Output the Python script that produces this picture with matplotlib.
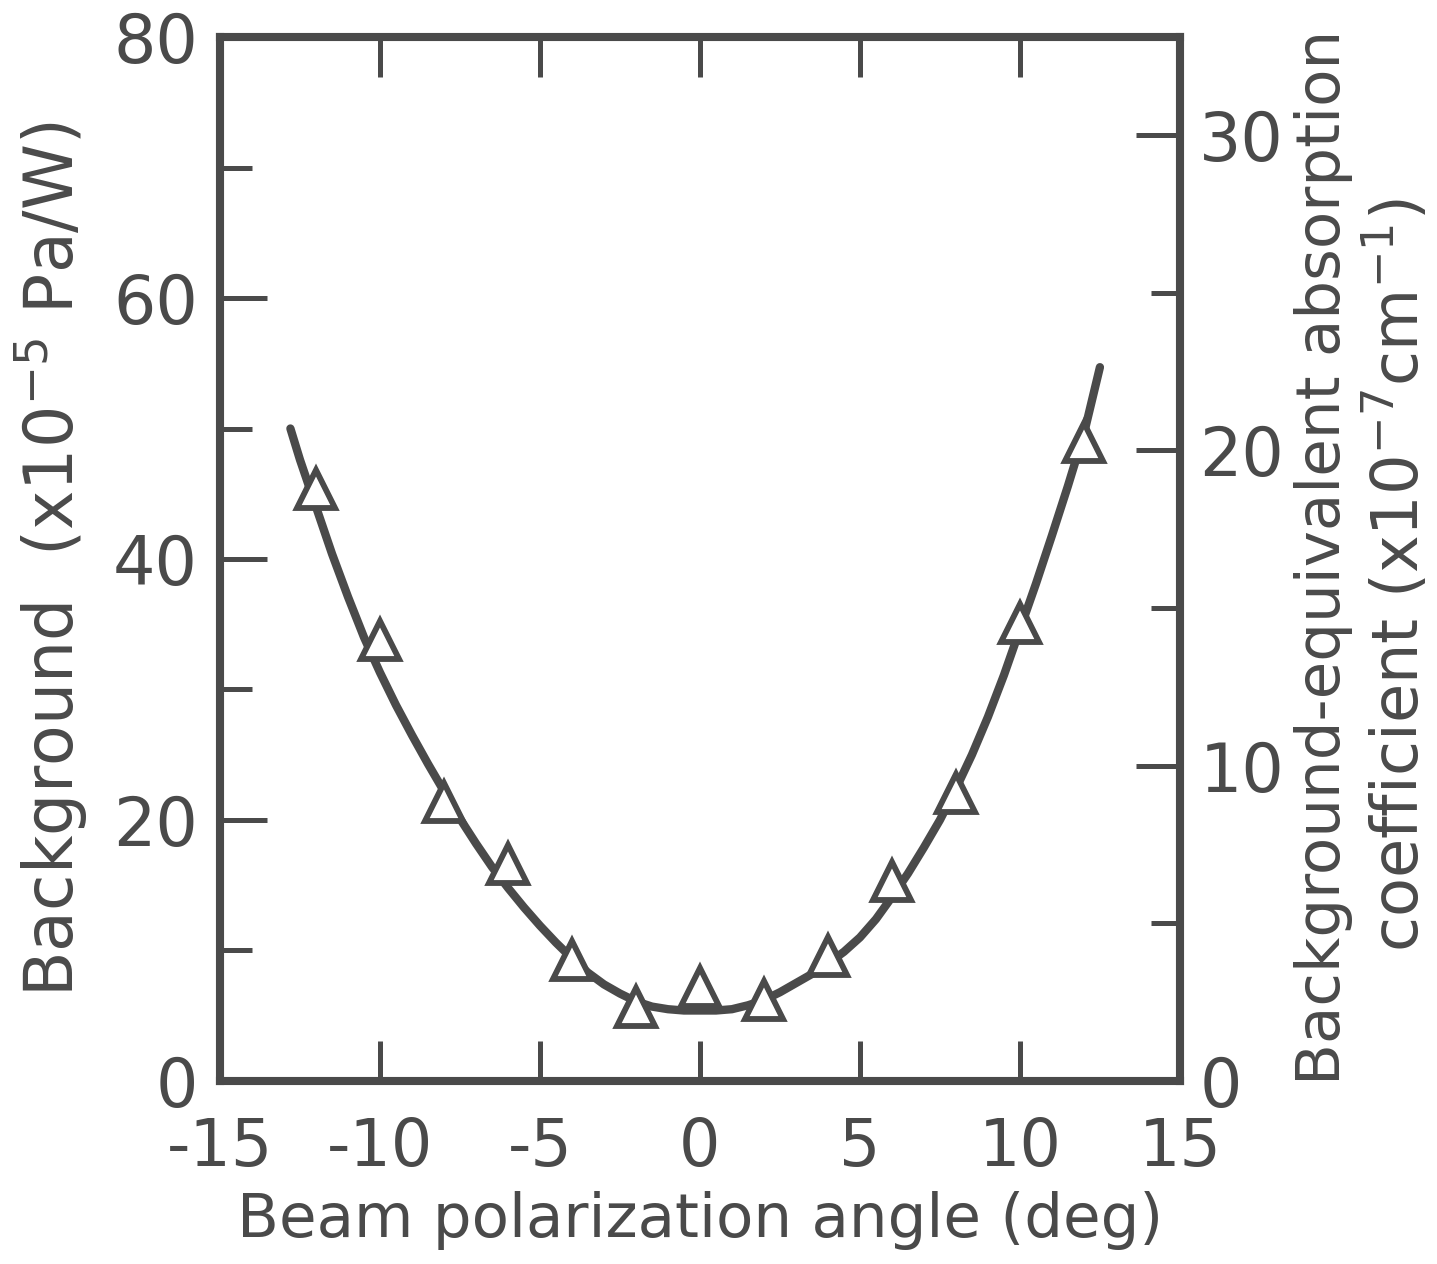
import numpy as np
import matplotlib.pyplot as plt

# measured points (triangles)
angle_pts = [-12, -10, -8, -6, -4, -2, 0, 2, 4, 6, 8, 10, 12]
bg_pts = [45.4, 33.8, 21.4, 16.6, 9.3, 5.7, 7.2, 6.2, 9.6, 15.3, 22.1, 35.1, 49.0]

# smooth curve
curve_x = [-12.8, -12.5, -12.0, -11.5, -11.0, -10.5, -10.0, -9.5, -9.0, -8.5, -8.0,
           -7.5, -7.0, -6.5, -6.0, -5.5, -5.0, -4.5, -4.0, -3.5, -3.0, -2.5, -2.0,
           -1.5, -1.0, -0.5, 0.0, 0.5, 1.0, 1.5, 2.0, 2.5, 3.0, 3.5, 4.0, 4.5, 5.0,
           5.5, 6.0, 6.5, 7.0, 7.5, 8.0, 8.5, 9.0, 9.5, 10.0, 10.5, 11.0, 11.5,
           12.0, 12.5]
curve_y = [50.0, 47.6, 44.0, 40.4, 37.1, 34.0, 31.3, 28.8, 26.5, 24.3, 22.2,
           20.1, 18.2, 16.4, 14.8, 13.3, 11.9, 10.6, 9.4, 8.3, 7.4, 6.7, 6.1,
           5.7, 5.5, 5.4, 5.4, 5.4, 5.5, 5.8, 6.2, 6.8, 7.5, 8.2, 9.0, 9.9, 11.0,
           12.4, 14.1, 15.9, 17.9, 20.0, 22.4, 25.0, 27.9, 31.1, 34.6, 38.1, 41.8,
           45.6, 49.6, 54.7]

x_ticks = [-15, -10, -5, 0, 5, 10, 15]
left_major = [0, 20, 40, 60, 80]
left_minor = [10, 30, 50, 70]
right_major = [0, 10, 20, 30]
right_minor = [5, 15, 25]
right_max = 33.1

ink = '#4a4a4a'
plt.rcParams.update({
    'font.family': 'DejaVu Sans',
    'font.size': 48,
    'mathtext.default': 'regular',
    'axes.unicode_minus': False,
    'text.color': ink,
    'axes.edgecolor': ink,
    'axes.labelcolor': ink,
    'xtick.color': ink,
    'ytick.color': ink,
})

fig = plt.figure(figsize=(14.37, 12.64), dpi=100)
ax = fig.add_axes([0.1531, 0.1448, 0.668, 0.8259])

ax.plot(curve_x, curve_y, color=ink, lw=6, solid_capstyle='round',
        solid_joinstyle='round', zorder=2)
ax.plot(angle_pts, bg_pts, ls='none', marker='^', ms=28, mfc='white',
        mec=ink, mew=4.2, zorder=3)

ax.set_xlim(-15, 15)
ax.set_ylim(0, 80)
ax.set_xticks(x_ticks)
ax.set_xticklabels([str(t) for t in x_ticks])
ax.set_yticks(left_major)
ax.set_yticks(left_minor, minor=True)
ax.tick_params(axis='x', which='major', direction='in', top=True, length=29,
               width=3.6, pad=25, labelsize=47)
ax.tick_params(axis='y', which='major', direction='in', right=False, length=34,
               width=3.6, pad=16, labelsize=48)
ax.tick_params(axis='y', which='minor', direction='in', right=False, length=23,
               width=3.6)

ax2 = ax.twinx()
ax2.set_ylim(0, right_max)
ax2.set_yticks(right_major)
ax2.set_yticks(right_minor, minor=True)
ax2.tick_params(axis='y', which='major', direction='in', length=32, width=3.6,
                pad=14, labelsize=48)
ax2.tick_params(axis='y', which='minor', direction='in', length=21, width=3.6)

for a in (ax, ax2):
    for s in a.spines.values():
        s.set_linewidth(5.8)

ax.set_xlabel('Beam polarization angle (deg)', fontsize=44, labelpad=8)
ax.set_ylabel('Background  (x10$^{-5}$ Pa/W)', fontsize=48)
ax.yaxis.set_label_coords(-0.135, 0.5)

fig.text(0.921, 0.559, 'Background-equivalent absorption', rotation=90,
         fontsize=44, ha='center', va='center')
fig.text(0.972, 0.545, 'coefficient (x10$^{-7}$cm$^{-1}$)', rotation=90,
         fontsize=46, ha='center', va='center')

fig.savefig('out.png', dpi=100)
